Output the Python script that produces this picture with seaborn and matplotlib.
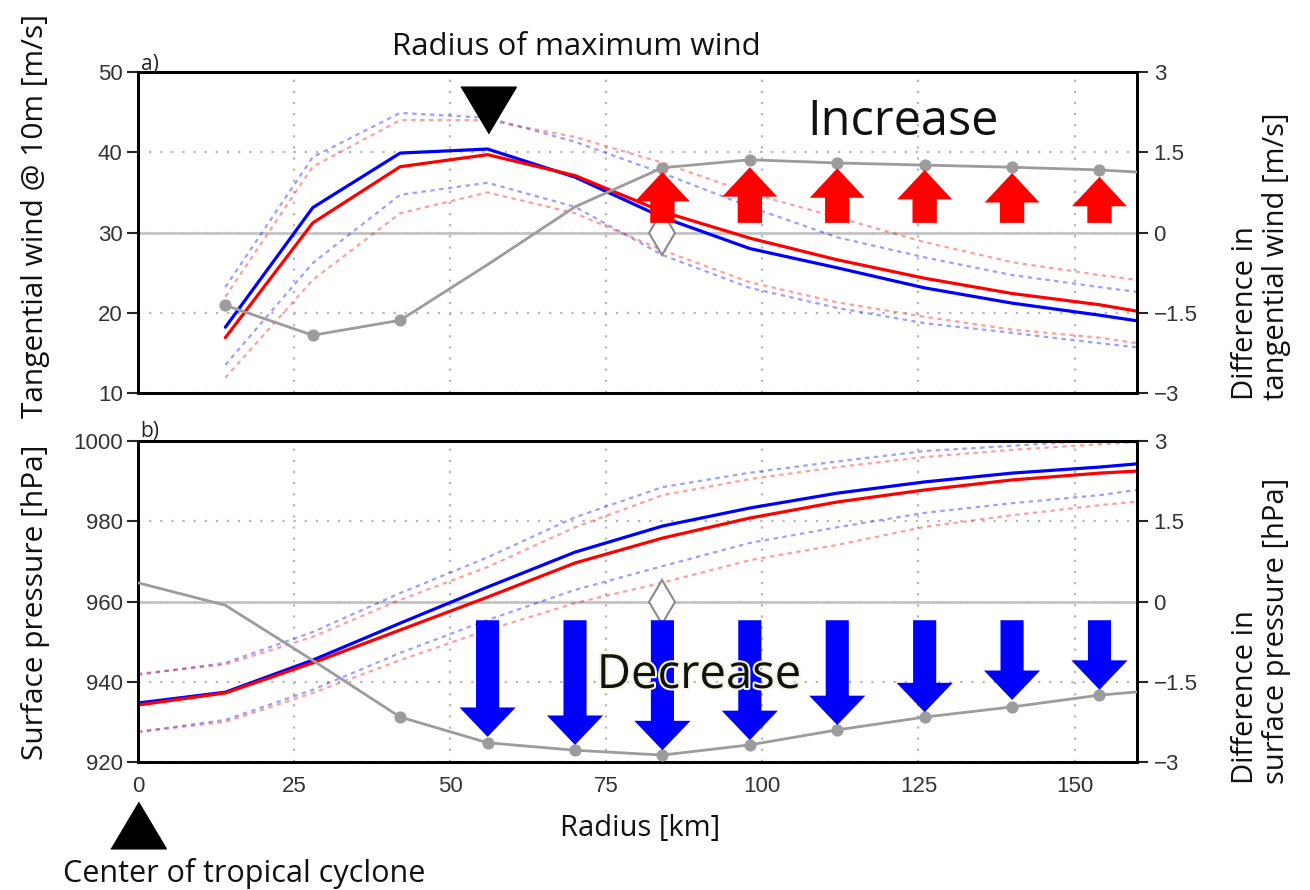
import numpy as np
import pandas as pd
import matplotlib
matplotlib.use("Agg")
import matplotlib.pyplot as plt
import matplotlib.transforms as mtransforms
import matplotlib.patheffects as pe
import seaborn as sns

# radius samples (km)
radius_a = [14, 28, 42, 56, 70, 84, 98, 112, 126, 140, 154, 160]
radius_b = [0, 14, 28, 42, 56, 70, 84, 98, 112, 126, 140, 154, 160]

# a) tangential wind @ 10m [m/s]
wind_blue = [18.2, 33.1, 39.9, 40.4, 36.9, 31.9, 28.0, 25.6, 23.1, 21.2, 19.7, 19.0]
wind_red = [16.9, 31.2, 38.2, 39.7, 37.1, 32.6, 29.3, 26.6, 24.3, 22.4, 21.0, 20.2]
wind_blue_hi = [23.2, 39.4, 44.9, 44.3, 41.3, 37.4, 33.2, 29.4, 26.9, 24.7, 23.2, 22.6]
wind_red_hi = [22.0, 38.2, 44.0, 44.0, 41.9, 38.7, 34.9, 31.9, 28.8, 26.3, 24.7, 24.1]
wind_blue_lo = [13.5, 26.2, 34.7, 36.2, 33.2, 27.2, 23.1, 20.6, 18.7, 17.5, 16.2, 15.7]
wind_red_lo = [11.9, 24.1, 32.4, 35.0, 32.4, 27.8, 23.8, 21.3, 19.5, 17.9, 16.9, 16.2]
wind_diff = [-1.36, -1.92, -1.64, -0.60, 0.48, 1.21, 1.36, 1.30, 1.26, 1.22, 1.17, 1.13]
wind_diff_marks = [0, 1, 2, 5, 6, 7, 8, 9, 10]

# b) surface pressure [hPa]
pres_blue = [934.7, 937.4, 945.4, 954.6, 963.6, 972.3, 978.8, 983.3, 987.0, 989.8, 992.0, 993.5, 994.3]
pres_red = [934.2, 937.2, 944.7, 952.9, 961.1, 969.6, 975.8, 980.8, 984.8, 987.8, 990.3, 992.0, 992.5]
pres_blue_hi = [941.7, 944.7, 952.4, 962.1, 971.0, 981.0, 988.5, 992.1, 994.9, 997.5, 998.8, 1000.2, 1000.6]
pres_red_hi = [942.0, 944.3, 951.2, 960.4, 968.6, 978.5, 986.5, 990.5, 993.5, 996.0, 997.8, 999.2, 999.7]
pres_blue_lo = [927.5, 930.5, 938.0, 947.2, 955.4, 962.9, 968.8, 974.6, 978.5, 982.1, 984.5, 986.5, 987.8]
pres_red_lo = [927.5, 930.0, 937.2, 945.4, 952.9, 959.6, 964.7, 970.3, 974.1, 978.6, 981.5, 984.0, 984.9]
pres_diff = [0.35, -0.07, -1.10, -2.16, -2.64, -2.78, -2.87, -2.68, -2.40, -2.16, -1.97, -1.75, -1.69]
pres_diff_marks = [3, 4, 5, 6, 7, 8, 9, 10, 11]

# arrows (difference units)
up_radius = [84, 98, 112, 126, 140, 154]
up_tip = [1.13, 1.22, 1.20, 1.17, 1.11, 1.04]
down_radius = [56, 70, 84, 98, 112, 126, 140, 154]
down_tip = [-2.53, -2.68, -2.78, -2.59, -2.31, -2.07, -1.84, -1.65]

rmw = 56  # radius of maximum wind

sns.set_style("white")
plt.rcParams['font.family'] = ['Open Sans', 'DejaVu Sans']

BLUE = '#0000ff'
RED = '#ff0000'
GRAY = '#9c9c9c'
TICKFONT = {'family': 'Liberation Sans', 'size': 16}

fig = plt.figure(figsize=(13.1, 8.9), dpi=100)
ax1 = fig.add_axes([0.1053, 0.5584, 0.7626, 0.3607])
ax3 = fig.add_axes([0.1053, 0.1438, 0.7626, 0.3607])
ax2 = ax1.twinx()
ax4 = ax3.twinx()

dash = (0, (2, 2))
grid_kw = dict(color='#b5b5b5', linestyle=(0, (1, 4)), linewidth=1.6)


def draw_panel(ax, axr, r, blue, red, bhi, rhi, blo, rlo, diff, marks, zero):
    ax.axhline(zero, color='#c4c4c4', lw=2, zorder=1)
    for y, c in [(bhi, BLUE), (rhi, RED), (blo, BLUE), (rlo, RED)]:
        sns.lineplot(x=r, y=y, ax=ax, color=c, linestyle=dash, lw=1.6, alpha=0.38, zorder=2)
    sns.lineplot(x=r, y=blue, ax=ax, color=BLUE, lw=2.3, zorder=3)
    sns.lineplot(x=r, y=red, ax=ax, color=RED, lw=2.3, zorder=3)
    sns.lineplot(x=r, y=diff, ax=axr, color=GRAY, lw=2, marker='o', markersize=8,
                 markeredgecolor=GRAY, markevery=marks, zorder=3)
    axr.plot([84], [0], marker='d', markersize=22, markerfacecolor='white',
             markeredgecolor='#8a8a8a', markeredgewidth=1.5, zorder=4)


draw_panel(ax1, ax2, radius_a, wind_blue, wind_red, wind_blue_hi, wind_red_hi,
           wind_blue_lo, wind_red_lo, wind_diff, wind_diff_marks, 30)
draw_panel(ax3, ax4, radius_b, pres_blue, pres_red, pres_blue_hi, pres_red_hi,
           pres_blue_lo, pres_red_lo, pres_diff, pres_diff_marks, 960)

# arrows
for r, t in zip(up_radius, up_tip):
    ax2.arrow(r, 0.18, 0, t - 0.18, width=3.9, head_width=8.8, head_length=0.55,
              length_includes_head=True, color=RED, lw=0, zorder=5)
for r, t in zip(down_radius, down_tip):
    ax4.arrow(r, -0.35, 0, t + 0.35, width=3.7, head_width=9.0, head_length=0.55,
              length_includes_head=True, color=BLUE, lw=0, zorder=5)

# radius of maximum wind marker
ax2.plot([rmw], [2.29], marker=[(-1, 0.84), (1, 0.84), (0, -0.84)], markersize=40,
         color='black', zorder=6, clip_on=False)
# center marker
trans = mtransforms.blended_transform_factory(ax3.transData, ax3.transAxes)
ax3.plot([0], [-0.196], marker=[(-1, -0.84), (1, -0.84), (0, 0.84)], markersize=40,
         color='black', transform=trans, clip_on=False)

# axes cosmetics
for ax, axr, ylim, yt in [(ax1, ax2, (10, 50), [10, 20, 30, 40, 50]),
                          (ax3, ax4, (920, 1000), [920, 940, 960, 980, 1000])]:
    ax.set_xlim(0, 160)
    ax.set_ylim(*ylim)
    ax.set_yticks(yt)
    ax.set_xticks([0, 25, 50, 75, 100, 125, 150])
    ax.grid(True, **grid_kw)
    ax.set_xlabel('')
    ax.set_ylabel('')
    axr.set_ylim(-3, 3)
    axr.set_yticks([-3, -1.5, 0, 1.5, 3])
    axr.set_yticklabels(['\u22123', '\u22121.5', '0', '1.5', '3'], fontdict=TICKFONT, color='#333333')
    ax.set_yticklabels([str(v) for v in yt], fontdict=TICKFONT, color='#333333')
    ax.tick_params(axis='y', direction='out', length=8, width=1.5, pad=3)
    axr.tick_params(axis='y', direction='out', length=8, width=1.5, pad=4)
    for a in (ax, axr):
        for s in a.spines.values():
            s.set_linewidth(2)
            s.set_color('black')

ax1.tick_params(axis='x', length=0, labelbottom=False)
ax3.tick_params(axis='x', direction='out', length=8, width=1.5, pad=2)
ax3.set_xticklabels(['0', '25', '50', '75', '100', '125', '150'], fontdict=TICKFONT, color='#333333')

# texts
W, H = 1310, 890


def ftext(x, y, s, **kw):
    return fig.text(x / W, 1 - y / H, s, **kw)


ftext(576, 55, 'Radius of maximum wind', ha='center', va='baseline', fontsize=22.5, color='#111111')
ftext(244, 882, 'Center of tropical cyclone', ha='center', va='baseline', fontsize=22, color='#111111')
ftext(640, 836, 'Radius [km]', ha='center', va='baseline', fontsize=21, color='#111111')
ftext(903, 135, 'Increase', ha='center', va='baseline', fontsize=35, color='#111111', zorder=10)
ftext(699, 688, 'Decrease', ha='center', va='baseline', fontsize=34, color='#111111', zorder=10,
      path_effects=[pe.withStroke(linewidth=3, foreground='#f4f4e0')])
ftext(150, 70, 'a)', ha='center', va='baseline', fontsize=15, color='#222222')
ftext(150, 437, 'b)', ha='center', va='baseline', fontsize=15, color='#222222')

ftext(36, 216, 'Tangential wind @ 10m [m/s]', ha='center', va='center', rotation=90, fontsize=21.5,
      color='#111111')
ftext(36, 602, 'Surface pressure [hPa]', ha='center', va='center', rotation=90, fontsize=21.5,
      color='#111111')
ftext(1261, 400, 'Difference in\ntangential wind [m/s]', ha='center', va='bottom', rotation=90,
      multialignment='left', fontsize=21, color='#111111', linespacing=1.1)
ftext(1261, 784, 'Difference in\nsurface pressure [hPa]', ha='center', va='bottom', rotation=90,
      multialignment='left', fontsize=21, color='#111111', linespacing=1.1)

fig.savefig('out.png', dpi=100)
